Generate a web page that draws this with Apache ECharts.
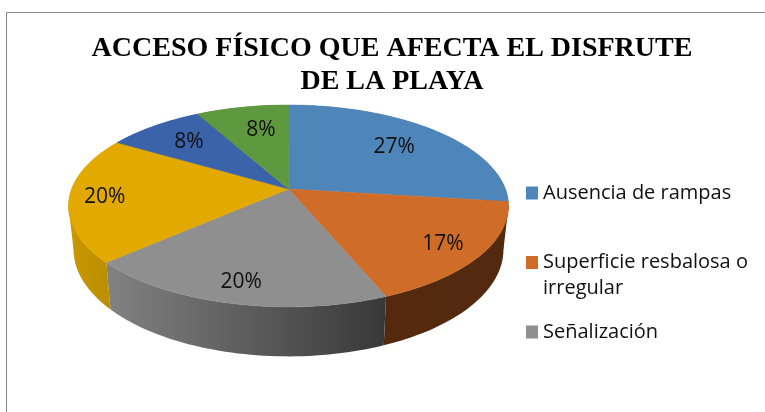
<!DOCTYPE html>
<html>
<head>
<meta charset="utf-8">
<style>html,body{margin:0;padding:0;background:#fff}#c{width:765px;height:412px}</style>
<script src="https://cdn.jsdelivr.net/npm/echarts@6/dist/echarts.min.js"></script>
</head>
<body>
<div id="c"></div>
<script>
var categories = ['Ausencia de rampas','Superficie resbalosa o irregular','Señalización','Categoría 4','Categoría 5','Categoría 6'];
var shares = [27,16.8,19.6,20.2,8.4,8];
var legendNames = ['Ausencia de rampas','Superficie resbalosa o irregular','Señalización'];
var titleText = 'ACCESO FÍSICO QUE AFECTA EL DISFRUTE\nDE LA PLAYA';

var topColors = ['#4E86BA','#CF6D28','#8F8F8F','#E2A900','#3B63AA','#5F993F'];
var wallFrom  = ['#3A6488','#55290E','#828282','#C89800','#2C4A80','#47732F'];
var wallTo    = ['#3A6488','#522A10','#383838','#B88C00','#2C4A80','#47732F'];
var labelDepth = [.7,.83,.84,.84,.72,.68];
var labelTurn = [0,1,0,0,0,2.4];

// projection of the pie disc
var CX = 288.5, CY = 189, RX = 216.9, RY = 98.1, PERSP = -0.168;
var SILHOUETTE = [99.7,260.3];

var total = shares.reduce(function(a,b){return a+b;},0);
var ranges = [], acc = 0;
shares.forEach(function(c){ ranges.push([acc/total*360,(acc+c)/total*360]); acc += c; });

function project(deg, r){
  var t = deg*Math.PI/180, u = r*Math.sin(t), v = -r*Math.cos(t), d = 1+PERSP*v;
  return [CX+RX*u/d, CY+RY*v/d];
}
function lower(p){
  return [CX+0.977*(p[0]-CX), p[1]+44+0.0585*(p[1]-213)];
}
function arc(a,b){
  var n = Math.max(2,Math.ceil((b-a)/1.5)), pts=[];
  for(var i=0;i<=n;i++) pts.push(project(a+(b-a)*i/n,1));
  return pts;
}
function wallItem(params, api){
  var a=api.value(0), b=api.value(1), i=api.value(2);
  var top=arc(a,b), bot=top.map(lower);
  var xs=top.concat(bot).map(function(p){return p[0];});
  var x0=Math.min.apply(null,xs), x1=Math.max.apply(null,xs);
  var fill={type:'linear',global:true,x:x0,y:0,x2:x1,y2:0,
    colorStops:[{offset:0,color:wallFrom[i]},{offset:1,color:wallTo[i]}]};
  var parts=[{type:'polygon',shape:{points:top.concat(bot.slice().reverse())},style:{fill:fill}}];
  SILHOUETTE.forEach(function(deg){
    if(deg>a && deg<b){
      var p=project(deg,1);
      parts.push({type:'polygon',shape:{points:[p,lower(p),project(deg,0.8)]},style:{fill:fill}});
    }
  });
  return {type:'group',children:parts};
}
function topItem(params, api){
  var a=api.value(0), b=api.value(1), i=api.value(2);
  var pts=[project(0,0)].concat(arc(a,b));
  var lp=project((a+b)/2+labelTurn[i],labelDepth[i]);
  return {type:'group',children:[
    {type:'polygon',shape:{points:pts},style:{fill:topColors[i],stroke:topColors[i],lineWidth:0.5},z2:1},
    {type:'text',x:lp[0],y:lp[1],z2:10,style:{text:Math.round(shares[i]/total*100)+'%',
      fill:'#111',fontFamily:'Open Sans',fontSize:21,align:'center',verticalAlign:'middle'}}
  ]};
}
var series=[{type:'custom',coordinateSystem:'none',name:'_walls',z:1,silent:true,renderItem:wallItem,
  data:ranges.map(function(r,i){return [r[0],r[1],i];})}];
categories.forEach(function(name,i){
  series.push({type:'custom',coordinateSystem:'none',name:name,z:2,silent:true,renderItem:topItem,
    itemStyle:{color:topColors[i]},data:[[ranges[i][0],ranges[i][1],i]]});
});

var chart=echarts.init(document.getElementById('c'),null,{renderer:'canvas'});
chart.setOption({
  animation:false,
  backgroundColor:'#fff',
  title:{text:titleText,left:387,top:27,textAlign:'center',
    textStyle:{fontFamily:'Liberation Serif',fontWeight:'bold',fontSize:28,lineHeight:33,color:'#000'}},
  legend:{orient:'vertical',left:521,top:175,itemWidth:12,itemHeight:13,itemGap:17.5,icon:'rect',selectedMode:false,
    data:legendNames,
    formatter:function(n){return n===legendNames[1]?'\nSuperficie resbalosa o\nirregular':n;},
    textStyle:{fontFamily:'Open Sans',fontSize:20,lineHeight:26,color:'#111'}},
  graphic:[{type:'rect',shape:{x:6.5,y:12.5,width:900,height:600},style:{fill:'none',stroke:'#888',lineWidth:1},silent:true}],
  series:series
});
</script>
</body>
</html>
